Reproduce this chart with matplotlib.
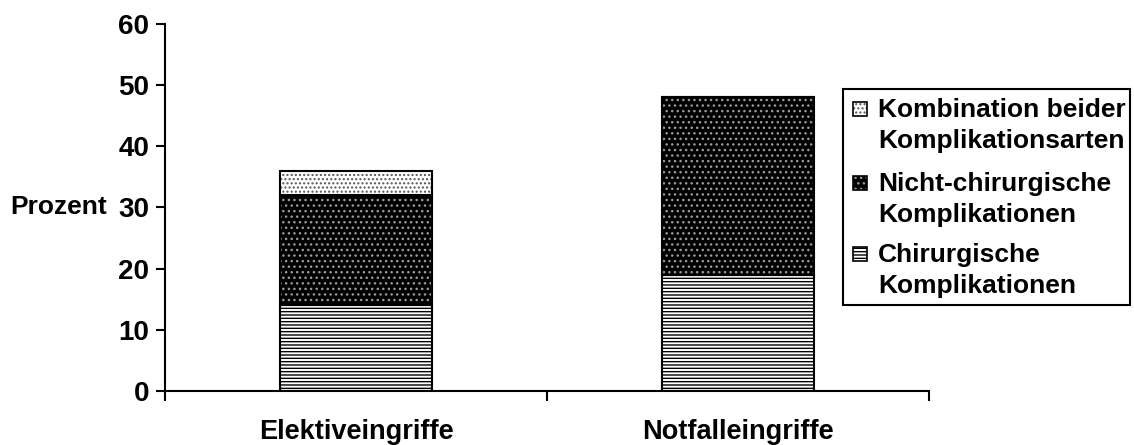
import matplotlib
matplotlib.use("Agg")
import matplotlib.pyplot as plt
from matplotlib.patches import Rectangle

plt.rcParams['font.family'] = ['Liberation Sans', 'DejaVu Sans']
plt.rcParams['font.weight'] = 'bold'
plt.rcParams['hatch.linewidth'] = 1.0

categories = ['Elektiveingriffe', 'Notfalleingriffe']
chirurgisch = [14, 19]
nicht_chirurgisch = [18, 29]
kombination = [4, 0]

series_labels = [
    ['Chirurgische', 'Komplikationen'],
    ['Nicht-chirurgische', 'Komplikationen'],
    ['Kombination beider', 'Komplikationsarten'],
]
yticks = [0, 10, 20, 30, 40, 50, 60]

# fill, hatch colour, hatch pattern per series
styles = [
    ('white', 'black', '-----'),
    ('black', '#9a9a9a', '...'),
    ('white', '#555555', '....'),
]

W, H = 1134, 445
fig = plt.figure(figsize=(W / 100, H / 100), dpi=100)
ax = fig.add_axes([0.1455, 0.1213, 0.6737, 0.8258])

x = list(range(len(categories)))
width = 0.40
bottom = [0, 0]
for values, (fc, hc, hatch) in zip([chirurgisch, nicht_chirurgisch, kombination], styles):
    ax.bar(x, values, width, bottom=bottom, color=fc, edgecolor=hc,
           hatch=hatch, linewidth=0)
    ax.bar(x, values, width, bottom=bottom, fill=False, edgecolor='black',
           linewidth=1.5)
    bottom = [b + v for b, v in zip(bottom, values)]

ax.set_xlim(-0.5, len(categories) - 0.5)
ax.set_ylim(0, 60)
ax.set_yticks(yticks)
ax.set_xticks(x)
ax.set_xticklabels(categories, fontsize=19.5, fontweight='bold')
ax.set_xticks([i - 0.5 for i in range(len(categories) + 1)], minor=True)
ax.tick_params(axis='x', which='major', length=0, pad=20)
ax.tick_params(axis='x', which='minor', length=7, width=1.5, direction='out')
ax.tick_params(axis='y', length=6.5, width=1.5, labelsize=20, pad=5)
for lbl in ax.get_yticklabels():
    lbl.set_fontweight('bold')

for side in ['top', 'right']:
    ax.spines[side].set_visible(False)
for side in ['left', 'bottom']:
    ax.spines[side].set_linewidth(1.5)

ax.set_ylabel('Prozent', rotation=0, fontsize=19, fontweight='bold',
              ha='right', va='center')
ax.yaxis.set_label_coords(-0.076, 0.5)


# legend drawn by hand so the patch sits on the first text line
def fx(px):
    return px / W


def fy(py):
    return 1 - py / H


fig.add_artist(Rectangle((fx(843), fy(305)), fx(1130) - fx(843), fy(89) - fy(305),
                         transform=fig.transFigure, facecolor='white',
                         edgecolor='black', linewidth=1.5))
baselines = [117, 191, 262]
for base, (fc, hc, hatch), lines in zip(baselines, reversed(styles),
                                        reversed(series_labels)):
    box = (fx(853), fy(base - 1)), fx(867) - fx(853), fy(base - 15) - fy(base - 1)
    fig.add_artist(Rectangle(*box, transform=fig.transFigure, facecolor=fc,
                             edgecolor=hc, hatch=hatch, linewidth=0))
    fig.add_artist(Rectangle(*box, transform=fig.transFigure, fill=False,
                             edgecolor='black', linewidth=1.2))
    for k, line in enumerate(lines):
        fig.text(fx(878), fy(base + 31 * k), line, fontsize=19,
                 fontweight='bold', ha='left', va='baseline')

fig.savefig('out.png', dpi=100)
